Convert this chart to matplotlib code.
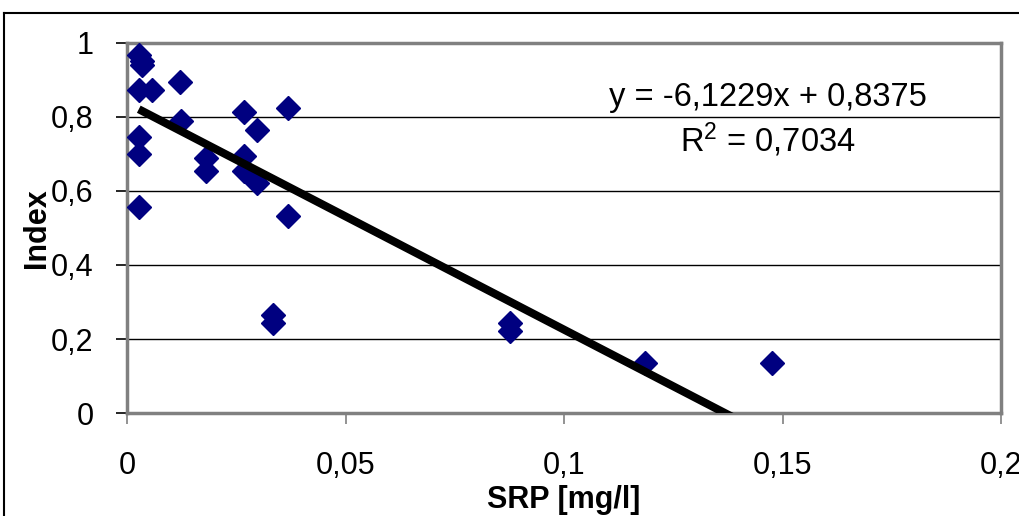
import matplotlib
matplotlib.use("Agg")
import numpy as np
import matplotlib.pyplot as plt
from matplotlib.lines import Line2D
from matplotlib.ticker import FuncFormatter

# data
srp = [0.0027, 0.0035, 0.0035, 0.0027, 0.0057, 0.0121, 0.0027, 0.0027,
       0.0124, 0.0180, 0.0180, 0.0268, 0.0297, 0.0268, 0.0268, 0.0297,
       0.0368, 0.0027, 0.0368, 0.0334, 0.0334, 0.0876, 0.0876, 0.1185,
       0.1476]
index = [0.968, 0.950, 0.940, 0.873, 0.873, 0.895, 0.746, 0.700,
         0.789, 0.689, 0.654, 0.814, 0.765, 0.695, 0.654, 0.622,
         0.824, 0.557, 0.532, 0.265, 0.243, 0.243, 0.222, 0.135,
         0.135]
slope = -6.1229
intercept = 0.8375
r2 = 0.7034
xticks = [0, 0.05, 0.1, 0.15, 0.2]
yticks = [0, 0.2, 0.4, 0.6, 0.8, 1]

plt.rcParams['font.family'] = ['Liberation Sans', 'DejaVu Sans']

def comma(v, pos):
    s = ('%g' % v).replace('.', ',')
    return s

fig = plt.figure(figsize=(10.2, 5.16), dpi=100)
ax = fig.add_axes([0.1245, 0.1996, 0.857, 0.7171])

# outer chart frame
fig.add_artist(Line2D([4/1020, 1.0], [1 - 13/516, 1 - 13/516], transform=fig.transFigure,
                      color='black', lw=1.5))
fig.add_artist(Line2D([4/1020, 4/1020], [0, 1 - 13/516], transform=fig.transFigure,
                      color='black', lw=1.5))

for v in yticks[1:-1]:
    ax.axhline(v, color='black', lw=1, zorder=1)

ax.plot(srp, index, linestyle='none', marker='D', markersize=12.5,
        color='#000080', markeredgecolor='#000080', zorder=3)

xt = np.array([min(srp), max(srp)])
ax.plot(xt, slope * xt + intercept, color='black', lw=5.8, zorder=4,
        solid_capstyle='butt')

ax.set_xlim(0, 0.2)
ax.set_ylim(0, 1)
ax.set_xticks(xticks)
ax.set_yticks(yticks)
ax.xaxis.set_major_formatter(FuncFormatter(comma))
ax.yaxis.set_major_formatter(FuncFormatter(comma))
ax.tick_params(axis='both', labelsize=22, direction='out', length=8, width=1.2)
ax.tick_params(axis='x', pad=19, color='#808080')
ax.tick_params(axis='y', pad=16)

for sp in ax.spines.values():
    sp.set_color('#808080')
    sp.set_linewidth(2.5)
ax.axvline(0, color='black', lw=1.2, zorder=2)

ax.set_xlabel('SRP [mg/l]', fontsize=22, fontweight='bold', labelpad=3)
ax.set_ylabel('Index', fontsize=22, fontweight='bold', labelpad=-1)

ax.text(0.1467, 0.854, 'y = -6,1229x + 0,8375', fontsize=23.5, ha='center', va='center',
        zorder=5)
ax.text(0.1467, 0.738, '$\\mathregular{R^2}$ = 0,7034', fontsize=23.5, ha='center',
        va='center', zorder=5)

fig.savefig('out.png', dpi=100)
